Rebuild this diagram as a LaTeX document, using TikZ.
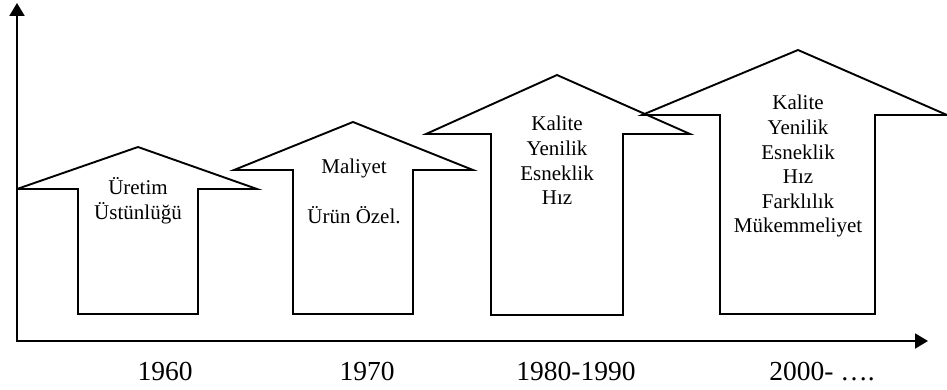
\documentclass[tikz,border=0pt]{standalone}
\usepackage{fontspec}
\setmainfont{Liberation Serif}
\usetikzlibrary{arrows.meta}
\begin{document}
\begin{tikzpicture}[x=1pt,y=-1pt,
  axes/.style={line width=1.9pt, line join=miter,
    {Triangle[length=13pt,width=15pt]}-{Triangle[length=13pt,width=15pt]}},
  block/.style={draw, line width=1.9pt, line join=miter, miter limit=6},
  tag/.style={inner sep=0pt, anchor=base, font=\fontsize{21}{24.6}\selectfont},
  year/.style={inner sep=0pt, anchor=base, font=\fontsize{27.5}{33}\selectfont}]
\useasboundingbox (0,0) rectangle (947,390);

% axes
\coordinate (origin) at (17,341);
\coordinate (ytop) at (17,3);
\coordinate (xend) at (928,341);
\draw[axes] (ytop) -- (origin) -- (xend);

% upward block arrows, one per period
\draw[block] (17,189) -- (138,147) -- (257,189) -- (198,189) -- (198,314)
  -- (78,314) -- (78,189) -- cycle;
\draw[block] (234,170) -- (353,122) -- (473,170) -- (413,170) -- (413,314)
  -- (293,314) -- (293,170) -- cycle;
\draw[block] (426,134) -- (557,75) -- (690,134) -- (623,134) -- (623,315)
  -- (491,315) -- (491,134) -- cycle;
\draw[block] (642,115) -- (798,50) -- (947,115) -- (875,115) -- (875,314)
  -- (720,314) -- (720,115) -- cycle;

% contents of the arrows
\node[tag] (t1) at (138,195) {\begin{tabular}[t]{@{}c@{}}Üretim\\Üstünlüğü\end{tabular}};
\node[tag] (t2) at (354,174) {\begin{tabular}[t]{@{}c@{}}Maliyet\\[24.6pt]Ürün Özel.\end{tabular}};
\node[tag] (t3) at (557,131) {\begin{tabular}[t]{@{}c@{}}Kalite\\Yenilik\\Esneklik\\Hız\end{tabular}};
\node[tag] (t4) at (798,110) {\begin{tabular}[t]{@{}c@{}}Kalite\\Yenilik\\Esneklik\\Hız\\Farklılık\\Mükemmeliyet\end{tabular}};

% period labels
\node[year] (y1) at (165,380) {1960};
\node[year] (y2) at (367,380) {1970};
\node[year] (y3) at (576,380) {1980-1990};
\node[year] (y4) at (822,380) {2000- ….};
\end{tikzpicture}
\end{document}
